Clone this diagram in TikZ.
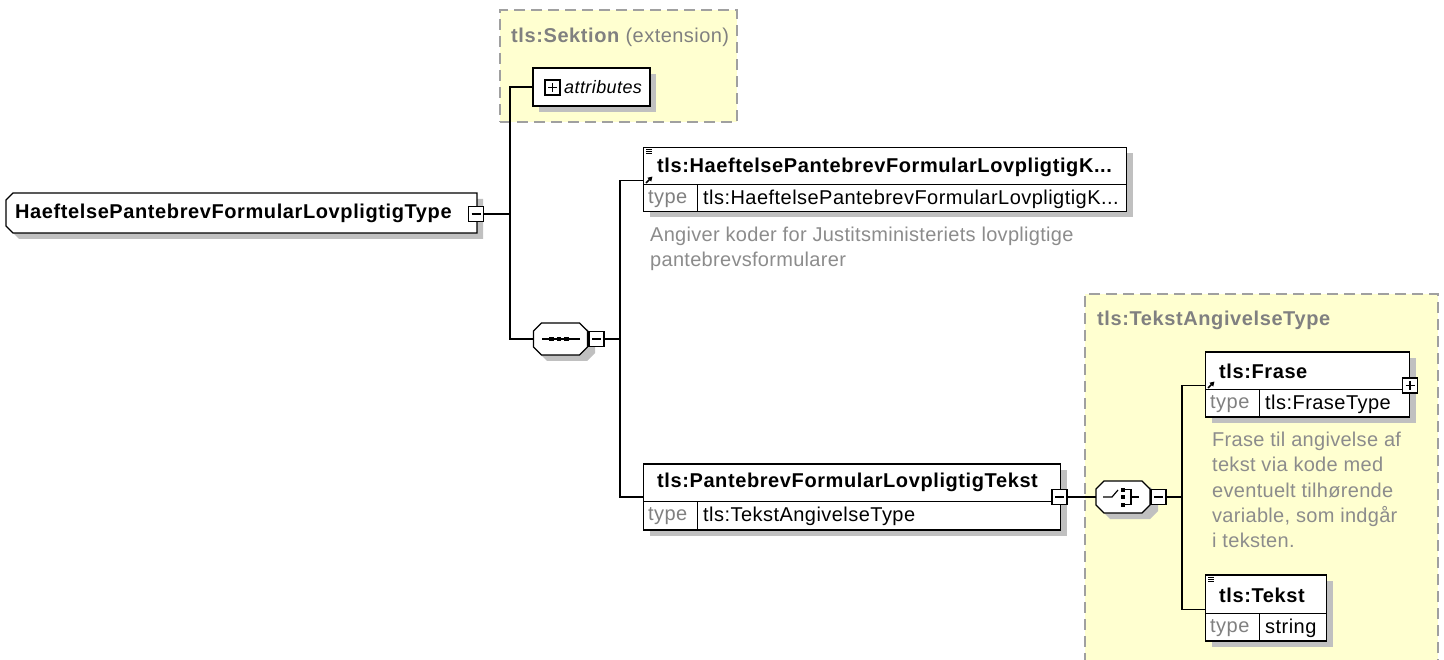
\documentclass[tikz,border=0pt]{standalone}
\usepackage{fontspec}
\setmainfont{Liberation Sans}[LetterSpace=2.3, BoldFeatures={LetterSpace=3}]
\newfontfamily\annfont{Liberation Sans}[LetterSpace=1.5]
\usetikzlibrary{calc,shadows,arrows.meta}
\definecolor{shad}{RGB}{192,192,192}
\definecolor{grpfill}{RGB}{255,255,208}
\definecolor{grpline}{RGB}{160,160,160}
\definecolor{ttl}{RGB}{128,128,128}
\definecolor{anncol}{RGB}{140,140,140}
\tikzset{
  ln/.style={line width=1.3pt},
  grpbox/.style={draw=grpline, fill=grpfill, line width=1.3pt, dash pattern=on 11pt off 6pt, rectangle, inner sep=0pt, outer sep=0pt, anchor=north west},
  sh/.style={drop shadow={shadow xshift=6pt, shadow yshift=-6pt, fill=shad, opacity=1}},
  elbox/.style={draw, fill=white, line width=1.3pt, rectangle, inner sep=0pt, outer sep=0pt, anchor=north west, sh},
  shapeline/.style={draw, fill=white, line width=1.3pt},
  shadowfill/.style={fill=shad},
  anchorbox/.style={rectangle, inner sep=0pt, outer sep=0pt},
  pmbase/.style={draw, fill=white, line width=1.2pt, rectangle, minimum size=15pt, inner sep=0pt, outer sep=0pt},
  minusbox/.style={pmbase, path picture={\draw[line width=1.2pt] ([xshift=3pt]path picture bounding box.west) -- ([xshift=-3pt]path picture bounding box.east);}},
  plusbox/.style={pmbase, path picture={\draw[line width=1.2pt] ([xshift=3pt]path picture bounding box.west) -- ([xshift=-3pt]path picture bounding box.east) ([yshift=-3pt]path picture bounding box.north) -- ([yshift=3pt]path picture bounding box.south);}},
  bname/.style={font=\fontsize{20}{24}\selectfont\bfseries, inner sep=0pt, anchor=west},
  tlabel/.style={font=\fontsize{20}{24}\selectfont, text=ttl, inner sep=0pt, anchor=west},
  tval/.style={font=\fontsize{20}{24}\selectfont, inner sep=0pt, anchor=west},
  gtitle/.style={font=\fontsize{20}{24}\selectfont\bfseries, text=ttl, inner sep=0pt, anchor=west},
  annot/.style={font=\annfont\fontsize{20}{25.3}\selectfont, text=anncol, inner sep=0pt, anchor=north west, align=left},
  icon/.style={line width=1.6pt, -{Triangle[length=4.5pt,width=5pt]}},
}
\begin{document}
\begin{tikzpicture}[x=1pt,y=-1pt]
\useasboundingbox[fill=white] (0,0) rectangle (1444,660);

% ---------- groups ----------
\node[grpbox, minimum width=237pt, minimum height=112pt] (sek) at (500,10) {};
\node[gtitle] (sekt) at (511,37) {tls:Sektion \mdseries(extension)};
\node[grpbox, minimum width=353pt, minimum height=380pt] (tag) at (1085,294) {};
\node[gtitle] (tagt) at (1097,320) {tls:TekstAngivelseType};

% ---------- root ----------
\node[anchorbox, minimum width=471pt, minimum height=40pt] (root) at (241.5,213) {};
\fill[shadowfill] (18,205) -- (25,199) -- (483,199) -- (483,239) -- (19,239) -- (12,232) -- cycle;
\path[shapeline] ([yshift=-7pt]root.north west) -- ([xshift=7pt]root.north west) -- (root.north east) -- (root.south east) -- ([xshift=7pt]root.south west) -- ([yshift=7pt]root.south west) -- cycle;
\node[bname] (rootn) at (15,213) {HaeftelsePantebrevFormularLovpligtigType};
\node[minusbox] (rootpm) at (476,214) {};

% ---------- attributes ----------
\node[elbox, drop shadow={opacity=0}, minimum width=117pt, minimum height=38pt] (attrs) at (533,68) {};
\node[plusbox] (attpm) at (552.5,87.5) {};
\node[font=\fontsize{18}{22}\selectfont\itshape, inner sep=0pt, anchor=west] (attn) at (564,87.5) {attributes};

% ---------- sequence ----------
\node[anchorbox, minimum width=54pt, minimum height=32pt] (seq) at (560.5,339) {};
\fill[shadowfill] (547,329) -- (587,329) -- (595,337) -- (595,353) -- (587,361) -- (547,361) -- (539,353) -- (539,337) -- cycle;
\path[shapeline] ([xshift=8pt]seq.north west) -- ([xshift=-8pt]seq.north east) -- ([yshift=-8pt]seq.north east) -- ([yshift=8pt]seq.south east) -- ([xshift=-8pt]seq.south east) -- ([xshift=8pt]seq.south west) -- ([yshift=8pt]seq.south west) -- ([yshift=-8pt]seq.north west) -- cycle;
\node[minusbox] (seqpm) at (596.5,339) {};
\draw[line width=1.2pt] (542,339) -- (580,339);
\foreach \xx in {551.5,559,566.5} \fill (\xx-2.2,336.8) rectangle (\xx+2.2,341.2);

% ---------- element 1 ----------
\node[elbox, minimum width=483pt, minimum height=64pt] (el1) at (643.5,147.5) {};
\draw[line width=1pt] (643.5,185) -- (1126.5,185);
\draw[line width=1pt] (697,185) -- (697,211.5);
\node[bname] (el1n) at (657,167) {tls:HaeftelsePantebrevFormularLovpligtigK...};
\node[tlabel] (el1t) at (648,199) {type};
\node[tval] (el1v) at (703,199) {tls:HaeftelsePantebrevFormularLovpligtigK...};
\draw[line width=0.8pt] (646,149.5) -- (652,149.5) (646,151.5) -- (652,151.5) (646,153.5) -- (652,153.5);
\draw[icon] (646,183) -- (652.5,176.5);
\node[annot] (el1a) at (650,227) {Angiver koder for Justitsministeriets lovpligtige\\pantebrevsformularer};

% ---------- element 2 ----------
\node[elbox, minimum width=417pt, minimum height=66pt] (el2) at (643.5,464) {};
\draw[line width=1pt] (643.5,501.5) -- (1060.5,501.5);
\draw[line width=1pt] (697,501.5) -- (697,530);
\node[bname] (el2n) at (657,482) {tls:PantebrevFormularLovpligtigTekst};
\node[tlabel] (el2t) at (648,516.5) {type};
\node[tval] (el2v) at (703,516.5) {tls:TekstAngivelseType};
\node[minusbox] (el2pm) at (1059.5,497) {};

% ---------- choice ----------
\node[anchorbox, minimum width=54pt, minimum height=32pt] (choice) at (1123,497) {};
\fill[shadowfill] (1110,487) -- (1150,487) -- (1158,495) -- (1158,511) -- (1150,519) -- (1110,519) -- (1102,511) -- (1102,495) -- cycle;
\path[shapeline] ([xshift=8pt]choice.north west) -- ([xshift=-8pt]choice.north east) -- ([yshift=-8pt]choice.north east) -- ([yshift=8pt]choice.south east) -- ([xshift=-8pt]choice.south east) -- ([xshift=8pt]choice.south west) -- ([yshift=8pt]choice.south west) -- ([yshift=-8pt]choice.north west) -- cycle;
\node[minusbox] (choicepm) at (1158.5,497) {};
\draw[line width=1.2pt] (1103,497) -- (1112,497) -- (1118,490);
\fill (1120.5,487.5) rectangle (1124.5,491.5);
\fill (1120.5,495) rectangle (1124.5,499);
\fill (1120.5,502.5) rectangle (1124.5,506.5);
\draw[line width=1.2pt] (1124.5,489.5) -- (1131,489.5) -- (1131,504.5) -- (1124.5,504.5) (1131,497) -- (1139,497);

% ---------- Frase ----------
\node[elbox, minimum width=204pt, minimum height=65pt] (frase) at (1205.5,352) {};
\draw[line width=1pt] (1205.5,389.5) -- (1409.5,389.5);
\draw[line width=1pt] (1259,389.5) -- (1259,417);
\node[bname] (frasen) at (1219,371) {tls:Frase};
\node[tlabel] (fraset) at (1210,404) {type};
\node[tval] (frasev) at (1265,404) {tls:FraseType};
\node[plusbox] (frasepm) at (1410,385.5) {};
\draw[icon] (1208,388) -- (1214.5,381.5);
\node[annot] (frasea) at (1212,432) {Frase til angivelse af\\tekst via kode med\\eventuelt tilhørende\\variable, som indgår\\i teksten.};

% ---------- Tekst ----------
\node[elbox, minimum width=121pt, minimum height=66pt] (tekst) at (1205.5,575) {};
\draw[line width=1pt] (1205.5,613.5) -- (1326.5,613.5);
\draw[line width=1pt] (1259,613.5) -- (1259,641);
\node[bname] (tekstn) at (1219,595) {tls:Tekst};
\node[tlabel] (tekstt) at (1210,628) {type};
\node[tval] (tekstv) at (1265,628) {string};
\draw[line width=0.8pt] (1208,577.5) -- (1214,577.5) (1208,579.5) -- (1214,579.5) (1208,581.5) -- (1214,581.5);

% ---------- connectors ----------
\coordinate (j1) at (510,214);
\coordinate (j2) at (620,339);
\coordinate (j3) at (1182,497);
\coordinate (el1c) at (643.5,180.5);
\coordinate (el2c) at (643.5,497);
\coordinate (frasec) at (1205.5,385.5);
\coordinate (tekstc) at (1205.5,609.5);
\draw[ln] (rootpm.east) -- (j1);
\draw[ln] (j1) |- (attrs.west);
\draw[ln] (j1) |- (seq.west);
\draw[ln] (seqpm.east) -- (j2);
\draw[ln] (j2) |- (el1c);
\draw[ln] (j2) |- (el2c);
\draw[ln] (el2pm.east) -- (choice.west);
\draw[ln] (choicepm.east) -- (j3);
\draw[ln] (j3) |- (frasec);
\draw[ln] (j3) |- (tekstc);
\end{tikzpicture}
\end{document}
